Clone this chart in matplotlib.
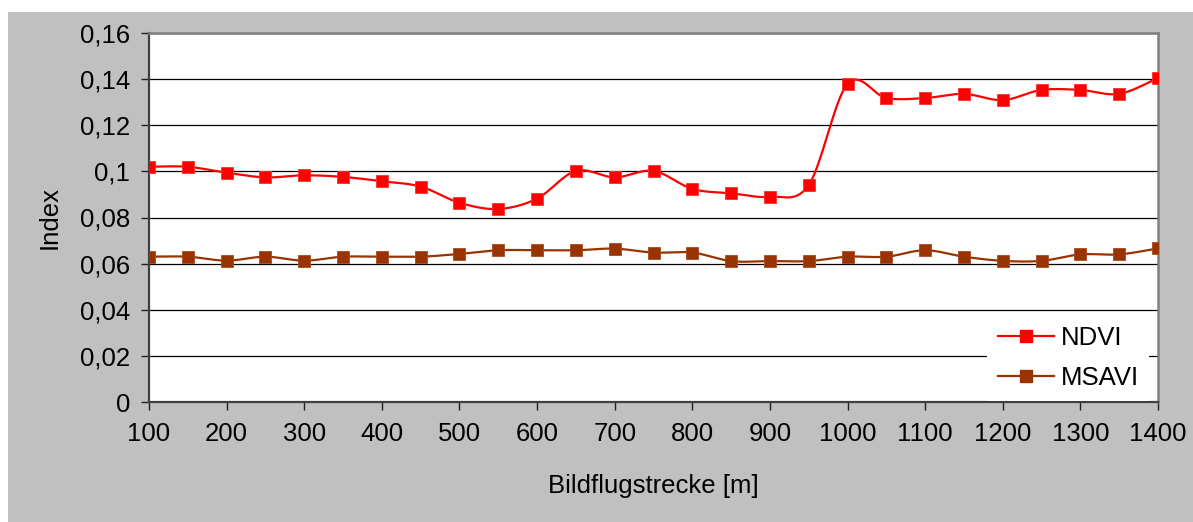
import matplotlib
matplotlib.use('Agg')
import matplotlib.pyplot as plt
import matplotlib.patches as patches
import numpy as np

# Data
strecke = [100, 150, 200, 250, 300, 350, 400, 450, 500, 550, 600, 650, 700, 750,
           800, 850, 900, 950, 1000, 1050, 1100, 1150, 1200, 1250, 1300, 1350, 1400]
ndvi = [0.102, 0.102, 0.0994, 0.0974, 0.0983, 0.0976, 0.0957, 0.0934, 0.0864, 0.0837,
        0.0882, 0.1002, 0.0974, 0.1002, 0.0924, 0.0905, 0.0890, 0.0941, 0.1379,
        0.1318, 0.1318, 0.1336, 0.1309, 0.1353, 0.1353, 0.1336, 0.1405]
msavi = [0.0630, 0.0630, 0.0613, 0.0630, 0.0613, 0.0630, 0.0630, 0.0630, 0.0642, 0.0658,
         0.0658, 0.0658, 0.0665, 0.0648, 0.0648, 0.0611, 0.0611, 0.0611, 0.0630,
         0.0630, 0.0658, 0.0630, 0.0612, 0.0612, 0.0640, 0.0640, 0.0666]
yticks = [0, 0.02, 0.04, 0.06, 0.08, 0.1, 0.12, 0.14, 0.16]
ytick_labels = ['0', '0,02', '0,04', '0,06', '0,08', '0,1', '0,12', '0,14', '0,16']
xticks = list(range(100, 1401, 100))

FS = 18.5


def smooth(x, y, n=20):
    # Catmull-Rom style curve, like the smoothed lines in spreadsheet charts
    x = np.asarray(x, float)
    y = np.asarray(y, float)
    px = np.concatenate([[x[0]], x, [x[-1]]])
    py = np.concatenate([[y[0]], y, [y[-1]]])
    xs, ys = [], []
    t = np.linspace(0, 1, n, endpoint=False)
    for i in range(1, len(px) - 2):
        p0, p1, p2, p3 = [np.array([px[j], py[j]]) for j in (i - 1, i, i + 1, i + 2)]
        c1 = p1 + (p2 - p0) / 6.0
        c2 = p2 - (p3 - p1) / 6.0
        for tt in t:
            b = ((1 - tt) ** 3) * p1 + 3 * ((1 - tt) ** 2) * tt * c1 \
                + 3 * (1 - tt) * tt ** 2 * c2 + tt ** 3 * p2
            xs.append(b[0])
            ys.append(b[1])
    xs.append(x[-1])
    ys.append(y[-1])
    return xs, ys


plt.rcParams['font.family'] = ['Liberation Sans', 'DejaVu Sans']

fig = plt.figure(figsize=(11.93, 5.22), dpi=100)
fig.patch.set_facecolor('white')
# grey chart area
fig.patches.append(patches.Rectangle((8 / 1193, 0), 1, 510 / 522, transform=fig.transFigure,
                                     facecolor='#c0c0c0', edgecolor='none', zorder=-10))

ax = fig.add_axes([149 / 1193, 120 / 522, 1009 / 1193, 369 / 522])
ax.set_facecolor('white')

ax.set_xlim(100, 1400)
ax.set_ylim(0, 0.16)
ax.set_yticks(yticks)
ax.set_yticklabels(ytick_labels)
ax.set_xticks(xticks)
ax.yaxis.grid(True, color='black', linewidth=0.9)
ax.set_axisbelow(True)

ax.spines['left'].set_color('#404040')
ax.spines['left'].set_linewidth(1.6)
ax.spines['bottom'].set_color('#404040')
ax.spines['bottom'].set_linewidth(1.6)
ax.spines['top'].set_color('#808080')
ax.spines['top'].set_linewidth(1.8)
ax.spines['right'].set_color('#808080')
ax.spines['right'].set_linewidth(1.8)
ax.tick_params(axis='both', direction='out', length=5.5, width=1, color='#202020',
               labelsize=FS)
ax.tick_params(axis='x', pad=9)
ax.tick_params(axis='y', pad=8)

sx, sy = smooth(strecke, ndvi)
ax.plot(sx, sy, color='#ff0000', linewidth=1.6, zorder=3)
ax.plot(strecke, ndvi, linestyle='none', marker='s', markersize=8.5,
        color='#ff0000', markeredgecolor='#ff3030', markeredgewidth=0.6, zorder=4)
sx, sy = smooth(strecke, msavi)
ax.plot(sx, sy, color='#993300', linewidth=1.6, zorder=3)
ax.plot(strecke, msavi, linestyle='none', marker='s', markersize=8.5,
        color='#993300', markeredgecolor='#a84a20', markeredgewidth=0.6, zorder=4)

# legend handles
h1, = ax.plot([], [], color='#ff0000', linewidth=1.6, marker='s', markersize=8.5, label='NDVI')
h2, = ax.plot([], [], color='#993300', linewidth=1.6, marker='s', markersize=8.5, label='MSAVI')
leg = ax.legend(handles=[h1, h2], loc='lower right', bbox_to_anchor=(0.991, 0.004),
                fontsize=FS, frameon=True, fancybox=False, framealpha=1,
                borderaxespad=0, handlelength=2.2, handletextpad=0.25,
                labelspacing=0.63, borderpad=0.4)
leg.get_frame().set_edgecolor('none')
leg.get_frame().set_facecolor('white')
leg.set_zorder(5)

ax.set_ylabel('Index', fontsize=FS, labelpad=13)
ax.set_xlabel('Bildflugstrecke [m]', fontsize=FS, labelpad=20)

plt.savefig('out.png', dpi=100)
plt.close()
